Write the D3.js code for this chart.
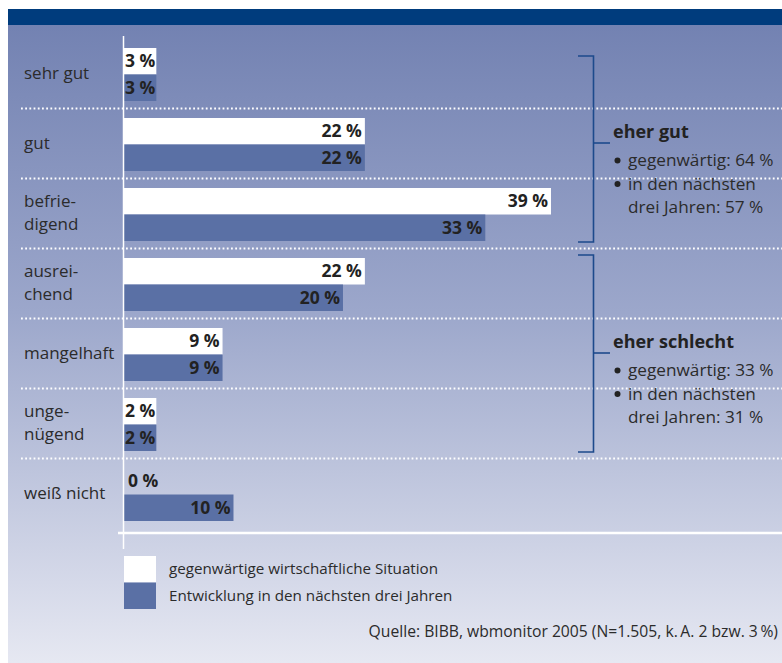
<!DOCTYPE html>
<html><head><meta charset="utf-8">
<script src="https://cdn.jsdelivr.net/npm/d3@7"></script>
<style>
html,body{margin:0;padding:0;background:#fff;}
svg{display:block;}
text{font-family:"Open Sans","Noto Sans",sans-serif;}
</style></head>
<body>
<svg id="chart" width="782" height="663"></svg>
<script>
// ---- data ----
const categories = ["sehr gut","gut","befriedigend","ausreichend","mangelhaft","ungenügend","weiß nicht"];
const categoryLines = [["sehr gut"],["gut"],["befrie-","digend"],["ausrei-","chend"],["mangelhaft"],["unge-","nügend"],["weiß nicht"]];
const seriesNames = ["gegenwärtige wirtschaftliche Situation","Entwicklung in den nächsten drei Jahren"];
const currentValues = [3,22,39,22,9,2,0];
const futureValues  = [3,22,33,20,9,2,10];
const groupTitles = ["eher gut","eher schlecht"];
const groupFrom = ["sehr gut","ausreichend"];
const groupMid  = ["gut","mangelhaft"];
const groupTo   = ["befriedigend","ungenügend"];
const groupLines = [
  ["gegenwärtig: 64 %","in den nächsten","drei Jahren: 57 %"],
  ["gegenwärtig: 33 %","in den nächsten","drei Jahren: 31 %"]
];
const sourceText = "Quelle: BIBB, wbmonitor 2005 (N=1.505, k.\u2009A. 2 bzw. 3\u2009%)";

// ---- layout ----
const svg = d3.select("#chart");
const W = 782, H = 663;
const colWhite = "#ffffff", colBlue = "#5a70a5", textCol = "#2b2b2b", bracketCol = "#1d4a8c";

const defs = svg.append("defs");
const grad = defs.append("linearGradient").attr("id","bg").attr("x1",0).attr("y1",0).attr("x2",0).attr("y2",1);
grad.append("stop").attr("offset","0%").attr("stop-color","#7382b2");
grad.append("stop").attr("offset","45%").attr("stop-color","#9ca7cb");
grad.append("stop").attr("offset","100%").attr("stop-color","#e6e8f2");

svg.append("rect").attr("x",8).attr("y",25).attr("width",W-8).attr("height",H-25).attr("fill","url(#bg)");
svg.append("rect").attr("x",8).attr("y",9).attr("width",W-8).attr("height",16).attr("fill","#003c7d");

const x = d3.scaleLinear().domain([0, d3.max(currentValues.concat(futureValues))]).range([124, 551]);
const y = d3.scaleBand().domain(categories).range([38, 528]).paddingInner(0).paddingOuter(0);
const sub = d3.scaleBand().domain(["current","future"]).range([10, 63]);

// dotted separators
const seps = categories.slice(1);
svg.append("g").selectAll("line").data(seps).join("line")
  .attr("x1",21).attr("x2",W)
  .attr("y1",d=>y(d)+0.5).attr("y2",d=>y(d)+0.5)
  .attr("stroke","#ffffff").attr("stroke-width",2)
  .attr("stroke-dasharray","1.8 2.4");

// category labels (one text element per line)
const labG = svg.append("g");
categories.forEach((d,i)=>{
  const lines = categoryLines[i];
  const cy = y(d) + y.bandwidth()/2;
  const ys = lines.length === 1 ? [cy+6] : [cy-6.5, cy+17];
  lines.forEach((ln,j)=>{
    labG.append("text").attr("x",24).attr("y",ys[j]).attr("fill",textCol)
      .attr("font-size",17).text(ln);
  });
});

// bars
const rows = categories.map((c,i)=>({cat:c, cur:currentValues[i], fut:futureValues[i]}));
const barData = [];
rows.forEach(r=>{
  barData.push({cat:r.cat, key:"current", v:r.cur});
  barData.push({cat:r.cat, key:"future", v:r.fut});
});
const barG = svg.append("g");
const bars = barG.selectAll("g").data(barData).join("g");
bars.each(function(d){
  const g = d3.select(this);
  const top = y(d.cat) + sub(d.key);
  const h = sub.bandwidth();
  const label = d.v + " %";
  const t = g.append("text").attr("font-size",17.5).attr("font-weight",700).attr("fill","#222")
    .attr("y", top + h/2 + 6).text(label);
  const tw = t.node().getComputedTextLength();
  let w = x(d.v) - x(0);
  if (d.v === 0) {
    t.attr("x", x(0)+4);
    return;
  }
  if (w < tw + 4) {
    w = tw + 2;
    t.attr("x", x(0)+1);
  } else {
    t.attr("text-anchor","end").attr("x", x(0)+w-3);
  }
  g.insert("rect","text").attr("x",x(0)).attr("y",top).attr("width",w).attr("height",h)
    .attr("fill", d.key==="current"?colWhite:colBlue);
});

// axis lines
svg.append("line").attr("x1",123.5).attr("x2",123.5).attr("y1",36).attr("y2",549)
  .attr("stroke","#fff").attr("stroke-width",1.5);
svg.append("line").attr("x1",118).attr("x2",W).attr("y1",533).attr("y2",533)
  .attr("stroke","#fff").attr("stroke-width",2.5);

// brackets
const insetTop = [18, 7];
const bx = 593.5;
groupTitles.forEach((title,i)=>{
  const top = y(groupFrom[i]) + insetTop[i];
  const bot = y(groupTo[i]) + y.bandwidth() - 6;
  const mid = y(groupMid[i]) + y.bandwidth()/2;
  const g = svg.append("g").attr("fill","none").attr("stroke",bracketCol).attr("stroke-width",1.6);
  g.append("path").attr("d",`M578,${top}H${bx}V${bot}H578`);
  g.append("path").attr("d",`M${bx},${mid}H610`);
  svg.append("text").attr("x",613).attr("y",mid-5).attr("font-size",18).attr("font-weight",700)
    .attr("fill","#222").text(title);
  groupLines[i].forEach((ln,j)=>{
    const yy = mid + 23 + j*23.5;
    if (j < 2) {
      svg.append("circle").attr("cx",617.5).attr("cy",yy-5.5).attr("r",3).attr("fill","#222");
    }
    svg.append("text").attr("x",628).attr("y",yy).attr("font-size",17.2).attr("fill",textCol).text(ln);
  });
});

// legend
const lg = svg.append("g");
seriesNames.forEach((s,i)=>{
  lg.append("rect").attr("x",124).attr("y",556 + i*26.5).attr("width",32).attr("height",26.5)
    .attr("fill", i===0?colWhite:colBlue);
  lg.append("text").attr("x",169).attr("y",574 + i*27).attr("font-size",15.2).attr("fill",textCol).text(s);
});

// source
svg.append("text").attr("x",778).attr("y",637).attr("text-anchor","end")
  .attr("font-size",15.7).attr("fill",textCol).text(sourceText);
</script>
</body></html>
